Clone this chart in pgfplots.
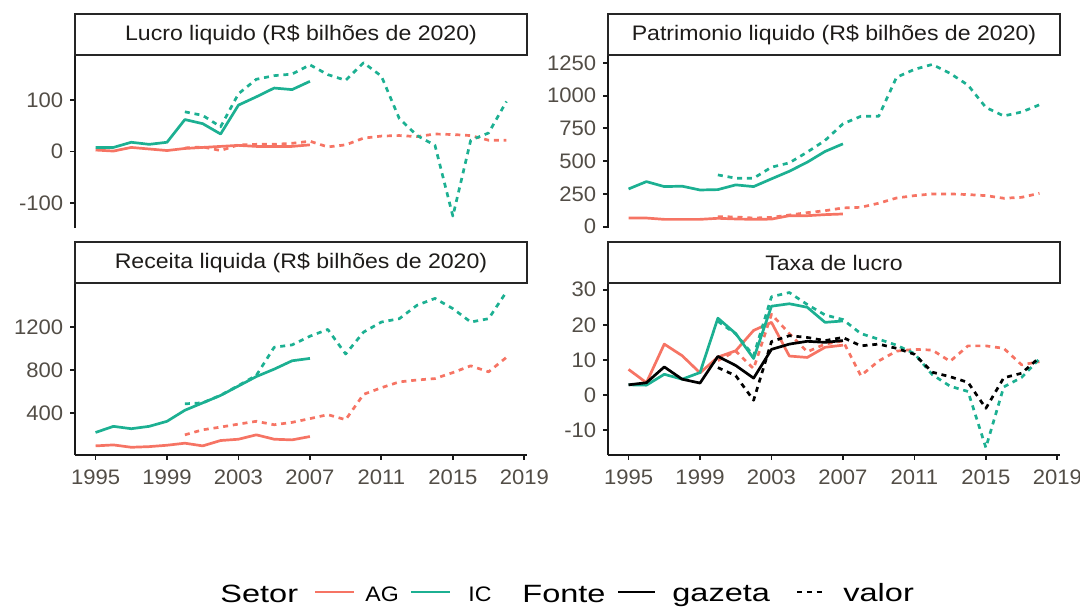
\documentclass[border=0pt]{standalone}
\usepackage{fontspec}
\setmainfont{Liberation Sans}[FakeStretch=1.1]
\newfontfamily\tickfont{Liberation Sans}[FakeStretch=1.05]
\newfontfamily\legfont{Liberation Sans}[FakeStretch=1.3]
\usepackage{pgfplots}
\usepackage{pgfplotstable}
\pgfplotsset{compat=1.18}

\definecolor{agc}{RGB}{246,116,100}
\definecolor{icc}{RGB}{28,176,146}
\definecolor{tickc}{RGB}{82,77,70}
\definecolor{stripc}{RGB}{30,28,26}

% Lucro liquido
\pgfplotstableread{
year AG IC
1995 3 8
1996 1 8
1997 8 18
1998 5 14
1999 2 18
2000 6 62
2001 8 54
2002 10 34
2003 12 90
2004 10 106
2005 10 123
2006 10 120
2007 13 136
}\lucroG
\pgfplotstableread{
year AG IC
2000 7 77
2001 9 70
2002 2 48
2003 13 112
2004 14 140
2005 14 147
2006 16 150
2007 20 168
2008 9 149
2009 13 138
2010 26 172
2011 30 146
2012 31 64
2013 29 31
2014 34 12
2015 33 -125
2016 31 22
2017 22 36
2018 22 97
}\lucroV

% Patrimonio liquido
\pgfplotstableread{
year AG IC
1995 66 288
1996 66 344
1997 56 306
1998 56 309
1999 56 280
2000 64 283
2001 59 319
2002 56 306
2003 58 365
2004 84 423
2005 84 492
2006 92 574
2007 97 632
}\patG
\pgfplotstableread{
year AG IC
2000 77 395
2001 74 370
2002 66 370
2003 71 454
2004 89 487
2005 107 569
2006 122 658
2007 143 785
2008 148 842
2009 179 842
2010 219 1140
2011 237 1200
2012 250 1238
2013 250 1170
2014 245 1080
2015 237 910
2016 217 845
2017 224 875
2018 255 930
}\patV

% Receita liquida
\pgfplotstableread{
year AG IC
1995 93 218
1996 102 275
1997 80 253
1998 86 275
1999 99 322
2000 118 425
2001 93 494
2002 143 563
2003 155 651
2004 196 739
2005 155 808
2006 149 886
2007 180 908
}\recG
\pgfplotstableread{
year AG IC
2000 196 485
2001 243 494
2002 268 565
2003 296 655
2004 322 750
2005 290 1012
2006 312 1034
2007 347 1115
2008 384 1178
2009 337 949
2010 573 1153
2011 635 1247
2012 689 1278
2013 707 1404
2014 720 1467
2015 776 1372
2016 839 1247
2017 783 1278
2018 918 1529
}\recV

% Taxa de lucro
\pgfplotstableread{
year AG IC TOT
1995 7.3 2.9 2.9
1996 3.5 2.8 3.5
1997 14.5 5.9 8.0
1998 11.2 4.5 4.5
1999 6.3 6.4 3.4
2000 10.8 21.9 11.0
2001 12.6 17.5 8.4
2002 18.4 10.4 4.8
2003 20.7 25.3 13.0
2004 11.1 26.0 14.5
2005 10.7 25.0 15.3
2006 13.6 20.7 15.0
2007 14.2 21.1 15.5
}\taxaG
\pgfplotstableread{
year AG IC TOT
2000 9.8 21.0 7.8
2001 12.5 17.4 5.5
2002 7.5 11.2 -1.5
2003 23.0 28.0 15.2
2004 17.5 29.2 16.9
2005 12.3 25.8 16.4
2006 14.5 22.8 15.5
2007 15.4 21.5 16.4
2008 5.5 17.5 14.0
2009 9.7 15.9 14.5
2010 12.5 14.2 13.3
2011 13.0 11.8 11.6
2012 12.8 5.8 6.5
2013 9.6 2.5 5.2
2014 14.0 1.0 3.6
2015 14.0 -15.0 -3.8
2016 13.3 2.3 4.9
2017 8.6 5.0 6.2
2018 9.5 10.3 10.7
}\taxaV

\pgfplotsset{
  facet/.style={
    scale only axis, width=226pt, height=86.5pt,
    xmin=1993.85, xmax=2019.15,
    axis y line*=left,
    axis line style={-, line width=1.1pt, black!90},
    tick align=outside, major tick length=2.4pt,
    tick style={black!90, line width=0.9pt},
    tick label style={font=\tickfont\fontsize{10.5}{11}\selectfont, text=tickc},
    /pgf/number format/assume math mode=true,
    /pgf/number format/1000 sep={},
    every axis plot/.append style={line join=round},
  },
  topfacet/.style={facet, axis x line=none, xtick=\empty},
  botfacet/.style={facet, axis x line*=bottom, xtick={1995,1999,...,2019},
    xticklabel style={yshift=-1.5pt}},
  ag/.style={color=agc, line width=1.35pt},
  ic/.style={color=icc, line width=1.35pt},
  tot/.style={color=black, line width=1.35pt},
  valor/.style={dash pattern=on 2.5pt off 2.4pt},
}

\newcommand{\strip}[3]{%
  \draw[line width=1pt, black!85, fill=white] (#1,#2) rectangle ++(226pt,20.5pt);
  \path (#1,#2) ++(113pt,10.25pt) node[font=\fontsize{10.5}{12}\selectfont, text=stripc] {#3};
}

\begin{document}
\begin{tikzpicture}
\useasboundingbox (0,0) rectangle (540pt,303pt);

% Lucro liquido
\begin{axis}[topfacet, at={(37.5pt,189pt)}, anchor=south west,
  ymin=-148, ymax=187, ytick={-100,0,100}]
  \addplot[ag] table[x=year,y=AG] {\lucroG};
  \addplot[ag,valor] table[x=year,y=AG] {\lucroV};
  \addplot[ic] table[x=year,y=IC] {\lucroG};
  \addplot[ic,valor] table[x=year,y=IC] {\lucroV};
\end{axis}
\strip{37.5pt}{275.5pt}{Lucro liquido (R\$ bilhões de 2020)}

% Patrimonio liquido
\begin{axis}[topfacet, at={(304pt,189pt)}, anchor=south west,
  ymin=-10, ymax=1310, ytick={0,250,500,750,1000,1250}]
  \addplot[ag] table[x=year,y=AG] {\patG};
  \addplot[ag,valor] table[x=year,y=AG] {\patV};
  \addplot[ic] table[x=year,y=IC] {\patG};
  \addplot[ic,valor] table[x=year,y=IC] {\patV};
\end{axis}
\strip{304pt}{275.5pt}{Patrimonio liquido (R\$ bilhões de 2020)}

% Receita liquida
\begin{axis}[botfacet, at={(37.5pt,75.5pt)}, anchor=south west,
  ymin=8, ymax=1620, ytick={400,800,1200}]
  \addplot[ag] table[x=year,y=AG] {\recG};
  \addplot[ag,valor] table[x=year,y=AG] {\recV};
  \addplot[ic] table[x=year,y=IC] {\recG};
  \addplot[ic,valor] table[x=year,y=IC] {\recV};
\end{axis}
\strip{37.5pt}{161.5pt}{Receita liquida (R\$ bilhões de 2020)}

% Taxa de lucro
\begin{axis}[botfacet, at={(304pt,75.5pt)}, anchor=south west,
  ymin=-17.1, ymax=32.2, ytick={-10,0,10,20,30}]
  \addplot[ag] table[x=year,y=AG] {\taxaG};
  \addplot[ag,valor] table[x=year,y=AG] {\taxaV};
  \addplot[ic] table[x=year,y=IC] {\taxaG};
  \addplot[ic,valor] table[x=year,y=IC] {\taxaV};
  \addplot[tot] table[x=year,y=TOT] {\taxaG};
  \addplot[tot,valor] table[x=year,y=TOT] {\taxaV};
\end{axis}
\strip{304pt}{161.5pt}{Taxa de lucro}

% Legend
\def\legtitle{\legfont\fontsize{12.5}{14}\selectfont}
\def\legtext{\fontsize{10.5}{12}\selectfont}
\def\legtextb{\legfont\fontsize{12.5}{14}\selectfont}
\node[anchor=base west, inner sep=0, font=\legtitle] at (110pt,2pt) {Setor};
\draw[agc, line width=1.4pt] (157.5pt,7pt) -- (177pt,7pt);
\node[anchor=base west, inner sep=0, font=\legtext] at (182.5pt,2.5pt) {AG};
\draw[icc, line width=1.4pt] (205.5pt,7pt) -- (225pt,7pt);
\node[anchor=base west, inner sep=0, font=\legtext] at (234pt,2.5pt) {IC};
\node[anchor=base west, inner sep=0, font=\legtitle] at (261pt,2pt) {Fonte};
\draw[black, line width=1.4pt] (309pt,7pt) -- (327.5pt,7pt);
\node[anchor=base west, inner sep=0, font=\legtextb] at (336pt,2.5pt) {gazeta};
\draw[black, line width=1.4pt, dash pattern=on 2.5pt off 2.4pt] (398.5pt,7pt) -- (413pt,7pt);
\node[anchor=base west, inner sep=0, font=\legtextb] at (421.5pt,2.5pt) {valor};
\end{tikzpicture}
\end{document}
